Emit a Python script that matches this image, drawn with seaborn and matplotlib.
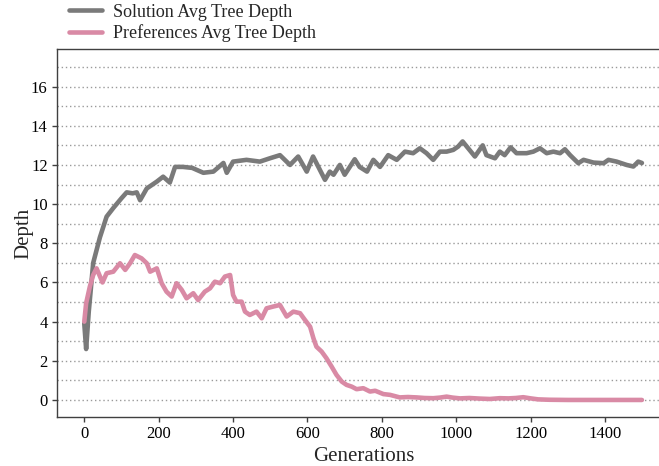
import matplotlib
matplotlib.use("Agg")
import matplotlib.pyplot as plt
import seaborn as sns
import pandas as pd
from matplotlib.ticker import MultipleLocator

# ---- data ----
sol_gen = [0, 5, 12, 24, 42, 60, 78, 100, 114, 130, 141, 150, 168, 195, 212, 230, 244, 265,
           290, 320, 347, 374, 383, 400, 436, 472, 499, 526, 553, 575, 598, 615, 647, 660,
           670, 687, 700, 727, 740, 760, 777, 795, 817, 840, 862, 884, 902, 920, 938, 956,
           974, 992, 1005, 1017, 1032, 1050, 1071, 1081, 1104, 1117, 1130, 1146, 1162, 1189,
           1207, 1225, 1243, 1261, 1279, 1292, 1306, 1328, 1342, 1369, 1396, 1409, 1431,
           1458, 1476, 1489, 1499]
sol_depth = [3.9, 2.6, 4.5, 7.0, 8.3, 9.36, 9.8, 10.3, 10.6, 10.55, 10.6, 10.2, 10.8, 11.15,
             11.4, 11.1, 11.9, 11.9, 11.85, 11.6, 11.66, 12.1, 11.6, 12.17, 12.26, 12.17,
             12.34, 12.5, 12.0, 12.43, 11.66, 12.43, 11.24, 11.66, 11.5, 12.0, 11.5, 12.29,
             11.9, 11.66, 12.26, 11.9, 12.5, 12.26, 12.68, 12.6, 12.85, 12.6, 12.26, 12.68,
             12.68, 12.77, 12.94, 13.2, 12.85, 12.43, 13.0, 12.5, 12.34, 12.68, 12.5, 12.9,
             12.6, 12.6, 12.68, 12.85, 12.6, 12.68, 12.6, 12.8, 12.5, 12.09, 12.26, 12.12,
             12.09, 12.26, 12.17, 12.0, 11.92, 12.17, 12.1]

pref_gen = [0, 5, 15, 24, 33, 49, 60, 78, 96, 110, 123, 136, 154, 168, 177, 195, 208, 221,
            235, 248, 262, 275, 293, 306, 324, 338, 351, 365, 378, 392, 400, 409, 423, 432,
            445, 463, 477, 490, 508, 526, 544, 562, 580, 593, 607, 616, 624, 638, 651, 665,
            678, 692, 705, 719, 732, 750, 768, 782, 804, 822, 848, 870, 893, 915, 938, 956,
            974, 990, 1010, 1035, 1063, 1090, 1117, 1140, 1160, 1180, 1200, 1220, 1250,
            1300, 1350, 1400, 1450, 1499]
pref_depth = [4.0, 4.94, 5.79, 6.38, 6.72, 6.0, 6.47, 6.55, 6.98, 6.64, 6.98, 7.4, 7.23,
              6.98, 6.55, 6.72, 5.96, 5.53, 5.28, 5.96, 5.62, 5.19, 5.45, 5.1, 5.53, 5.7,
              6.04, 5.96, 6.3, 6.38, 5.36, 5.02, 5.02, 4.51, 4.34, 4.51, 4.17, 4.68, 4.77,
              4.85, 4.26, 4.51, 4.43, 4.09, 3.74, 3.15, 2.72, 2.47, 2.13, 1.7, 1.28, 0.94,
              0.77, 0.68, 0.55, 0.6, 0.43, 0.47, 0.3, 0.26, 0.13, 0.15, 0.13, 0.1, 0.09,
              0.12, 0.17, 0.12, 0.08, 0.1, 0.07, 0.05, 0.09, 0.08, 0.1, 0.14, 0.08, 0.03,
              0.01, 0.0, 0.0, 0.0, 0.0, 0.0]

series_names = ["Solution Avg Tree Depth", "Preferences Avg Tree Depth"]
series_colors = ["#7a7a7a", "#d98aa5"]
x_ticks = [0, 200, 400, 600, 800, 1000, 1200, 1400]
y_ticks = [0, 2, 4, 6, 8, 10, 12, 14, 16]

df = pd.concat([
    pd.DataFrame({"Generation": sol_gen, "Depth": sol_depth, "Series": series_names[0]}),
    pd.DataFrame({"Generation": pref_gen, "Depth": pref_depth, "Series": series_names[1]}),
], ignore_index=True)

# ---- style ----
sns.set_style("ticks")
plt.rcParams['font.family'] = ['Liberation Serif', 'DejaVu Serif']

fig = plt.figure(figsize=(6.59, 4.66), dpi=100)
ax = fig.add_axes([0.086, 0.106, 0.931, 0.788])

sns.lineplot(data=df, x="Generation", y="Depth", hue="Series", hue_order=series_names,
             palette=series_colors, linewidth=3.3, estimator=None, ax=ax)

ax.set_xlim(-74.2, 1575)
ax.set_ylim(-0.85, 17.9)
ax.set_xticks(x_ticks)
ax.set_yticks(y_ticks)
ax.yaxis.set_minor_locator(MultipleLocator(1))
ax.tick_params(axis='y', which='minor', length=0)
ax.tick_params(axis='both', which='major', length=3.5, width=1.0, color='#404040',
               labelsize=12, labelcolor='black', pad=3)
ax.grid(axis='y', which='both', linestyle=(0, (1, 2)), color='#9a9a9a', linewidth=1.0)
ax.set_axisbelow(True)

for side in ['left', 'bottom', 'top']:
    ax.spines[side].set_color('#404040')
    ax.spines[side].set_linewidth(1.0)
ax.spines['right'].set_visible(False)

ax.set_xlabel("Generations", fontsize=15, labelpad=4)
ax.set_ylabel("Depth", fontsize=15, labelpad=-2)

leg = ax.legend(loc='lower left', bbox_to_anchor=(0.02, 1.02), frameon=False,
                fontsize=13, handlelength=1.85, handletextpad=0.6, borderpad=0,
                borderaxespad=0, labelspacing=0.2)
for line in leg.get_lines():
    line.set_linewidth(3.3)

fig.savefig("out.png", dpi=100)
